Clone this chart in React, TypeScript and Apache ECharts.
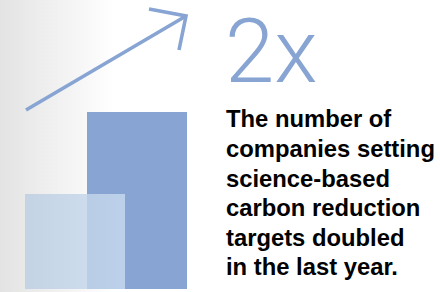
import React, { useEffect, useRef } from "react";
import * as echarts from "echarts";

const categories = ["Previous year", "Last year"];
const previousValues = [95, null];
const lastValues = [null, 177];
const valueMax = 177;
const headline = "2x";
const bodyLines = [
  "The number of",
  "companies setting",
  "science-based",
  "carbon reduction",
  "targets doubled",
  "in the last year.",
];

export default function App() {
  const ref = useRef<HTMLDivElement>(null);
  useEffect(() => {
    document.body.style.margin = "0";
    const chart = echarts.init(ref.current!, null, { renderer: "svg" });
    const blue = "#87a4d3";
    chart.setOption({
      animation: false,
      backgroundColor: "#ffffff",
      grid: { left: 25, width: 162, top: 112, bottom: 3 },
      xAxis: {
        type: "category",
        data: ["group"],
        show: false,
      },
      yAxis: { type: "value", min: 0, max: valueMax, show: false },
      series: [
        {
          name: categories[0],
          type: "bar",
          data: [previousValues[0]],
          barWidth: 100,
          barGap: "-38%",
          z: 4,
          itemStyle: {
            color: new echarts.graphic.LinearGradient(0, 0, 1, 0, [
              { offset: 0, color: "rgba(188,206,226,0.82)" },
              { offset: 1, color: "rgba(200,218,240,0.82)" },
            ]),
          },
        },
        {
          name: categories[1],
          type: "bar",
          data: [lastValues[1]],
          barWidth: 100,
          z: 3,
          itemStyle: { color: blue },
        },
      ],
      graphic: [
        {
          type: "rect",
          z: -10,
          silent: true,
          shape: { x: 0, y: 0, width: 440, height: 292 },
          style: {
            fill: new echarts.graphic.LinearGradient(0, 0, 1, 0, [
              { offset: 0, color: "#e3e3e3" },
              { offset: 0.26, color: "#ffffff" },
              { offset: 1, color: "#ffffff" },
            ]),
          },
        },
        {
          type: "polyline",
          z: 10,
          shape: { points: [[26, 110], [186, 16]] },
          style: { stroke: blue, lineWidth: 3.6, fill: null },
        },
        {
          type: "polyline",
          z: 10,
          shape: { points: [[149, 9], [186, 16], [179, 50]] },
          style: { stroke: blue, lineWidth: 3.6, fill: null, lineJoin: "miter" },
        },
        {
          type: "text",
          z: 10,
          x: 225,
          y: 51,
          style: {
            text: headline,
            fill: blue,
            font: "300 89px Roboto, 'Liberation Sans', sans-serif",
            verticalAlign: "middle",
            align: "left",
          },
        },
        {
          type: "text",
          z: 10,
          x: 226,
          y: 104,
          style: {
            text: bodyLines.join("\n"),
            fill: "#000000",
            font: "bold 23.8px 'Liberation Sans', Arial, sans-serif",
            lineHeight: 29.6,
            verticalAlign: "top",
            align: "left",
          },
        },
      ],
    });
    return () => chart.dispose();
  }, []);
  return <div ref={ref} style={{ width: 440, height: 292 }} />;
}
